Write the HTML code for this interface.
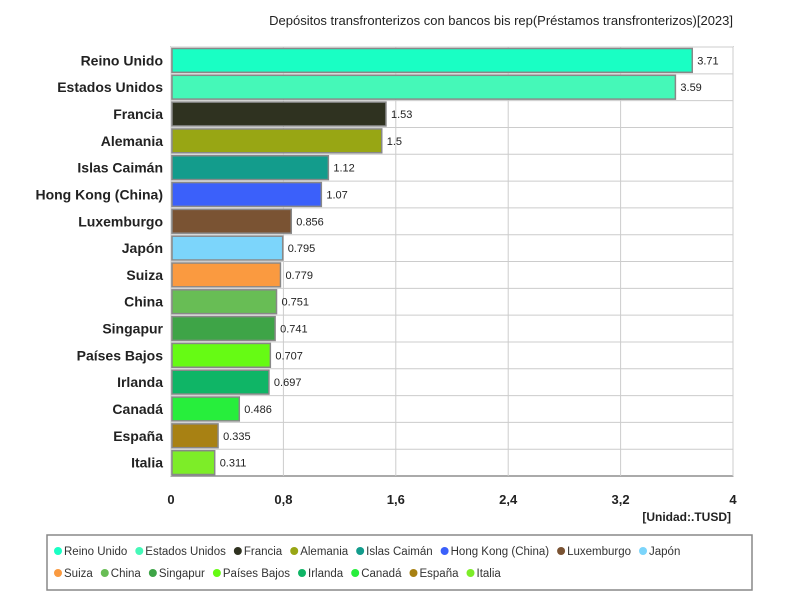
<!DOCTYPE html>
<html><head><meta charset="utf-8"><style>
body{margin:0;background:#fff;font-family:"Liberation Sans",sans-serif;}
</style></head><body>
<svg width="800" height="600" xmlns="http://www.w3.org/2000/svg" id="svg" font-family="Liberation Sans, sans-serif">
<text x="733" y="25" text-anchor="end" font-size="13" fill="#222">Depósitos transfronterizos con bancos bis rep(Préstamos transfronterizos)[2023]</text>
<g id="grid"></g><g id="bars"></g><g id="labels"></g>
<text x="731" y="521" text-anchor="end" font-size="12" font-weight="bold" fill="#222">[Unidad:.TUSD]</text>
<rect x="47" y="535" width="705" height="55" fill="#fff" stroke="#888" stroke-width="1.5"/>
<g id="legend"></g>
</svg>
<script>
const categories=["Reino Unido","Estados Unidos","Francia","Alemania","Islas Caimán","Hong Kong (China)","Luxemburgo","Japón","Suiza","China","Singapur","Países Bajos","Irlanda","Canadá","España","Italia"];
const values=[3.71,3.59,1.53,1.5,1.12,1.07,0.856,0.795,0.779,0.751,0.741,0.707,0.697,0.486,0.335,0.311];
const colors=["#19ffc4","#45f8b8","#2f3220","#98a614","#139c8c","#3b60fa","#7a5333","#7cd5fb","#fa9a40","#68bd55","#3ea447","#66fb14","#0fb566","#27ee3c","#a88113","#7ded28"];
const ticks=[0,0.8,1.6,2.4,3.2,4];
const tickLabels=["0","0,8","1,6","2,4","3,2","4"];
const X0=171,X1=733,Y0=47,Y1=476,XMAX=4;
const NS="http://www.w3.org/2000/svg";
const xs=v=>X0+(v/XMAX)*(X1-X0);
const rh=(Y1-Y0)/categories.length;
const ys=i=>Y0+i*rh;
function mk(t,a,p){const e=document.createElementNS(NS,t);for(const k in a)e.setAttribute(k,a[k]);p.appendChild(e);return e;}
const grid=document.getElementById('grid'),bars=document.getElementById('bars'),labels=document.getElementById('labels'),legend=document.getElementById('legend');
mk('rect',{x:X0,y:Y0,width:X1-X0,height:Y1-Y0,fill:'#fff',stroke:'#555','stroke-width':1},grid);
ticks.forEach((t,i)=>{
 const l=mk('line',{x1:xs(t),x2:xs(t),y1:Y0,y2:Y1,stroke:'#ccc'},grid);
 
 
 const tx=mk('text',{x:xs(t),y:504,'text-anchor':'middle','font-size':13,'font-weight':'bold',fill:'#222'},labels);
 tx.textContent=tickLabels[i];
 
 
});
categories.forEach((c,i)=>{
 const gl=mk('line',{x1:X0,x2:X1,y1:ys(i),y2:ys(i),stroke:'#ccc'},grid);
 
 
 const b=mk('rect',{x:X0+1,y:ys(i)+1.5,width:xs(values[i])-X0-1,height:rh-3,fill:colors[i],stroke:'#888','stroke-width':1.5},bars);
 
 
 const cy=ys(i)+rh/2;
 const yl=mk('text',{x:163,y:cy+5,'text-anchor':'end','font-size':14,'font-weight':'bold',fill:'#222'},labels);
 yl.textContent=c;
 
 
 const vl=mk('text',{x:xs(values[i])+5,y:cy+4,'font-size':11,fill:'#222'},labels);
 vl.textContent=String(values[i]);
 
 
});
const row1=8;
let lx=54;
categories.forEach((c,i)=>{
 if(i===row1) lx=54;
 const ly=i<row1?551:573;
 const d=mk('circle',{cx:lx+4,cy:ly,r:4,fill:colors[i]},legend);
 
 
 const t=mk('text',{x:lx+10,y:ly+4,'font-size':11.5,fill:'#333'},legend);
 t.textContent=c;
 
 
 lx+=10+t.getComputedTextLength()+8;
});
</script>
</body></html>
